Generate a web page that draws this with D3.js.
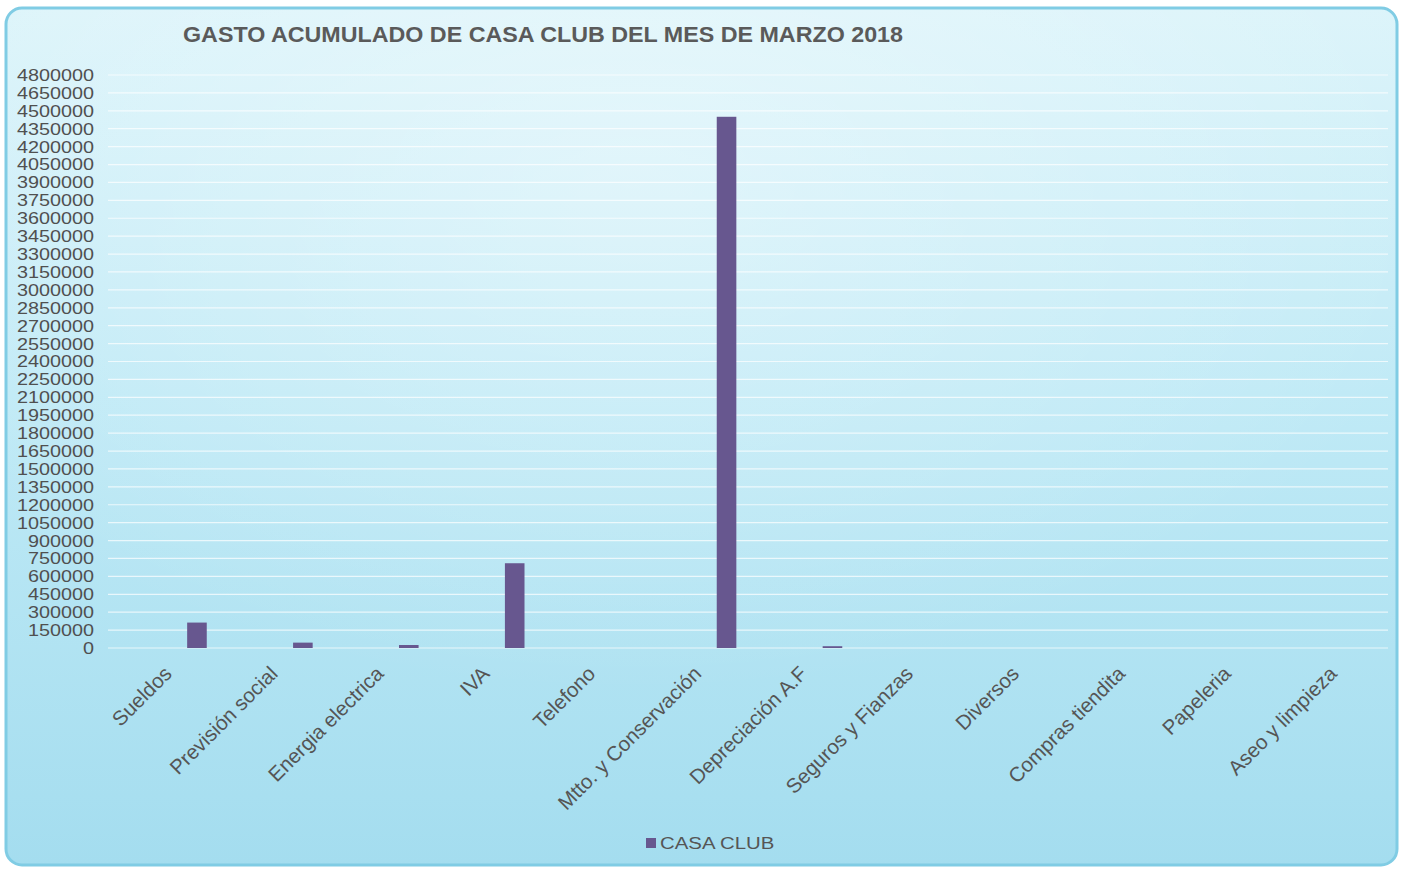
<!DOCTYPE html>
<html>
<head>
<meta charset="utf-8">
<script src="https://cdn.jsdelivr.net/npm/d3@7"></script>
<style>
  html, body { margin: 0; padding: 0; background: #ffffff; }
  svg { display: block; }
  text { font-family: Arial, "Liberation Sans", sans-serif; }
</style>
</head>
<body>
<svg id="chart" width="1403" height="869"></svg>
<script>
const categories = ["Sueldos", "Previsión social", "Energia electrica", "IVA", "Telefono",
  "Mtto. y Conservación", "Depreciación A.F", "Seguros y Fianzas", "Diversos",
  "Compras tiendita", "Papeleria", "Aseo y limpieza"];
const casaClub = [213000, 45000, 25000, 710000, 0, 4450000, 15000, 0, 0, 0, 0, 0];
const yTicks = d3.range(0, 4800001, 150000);
const title = "GASTO ACUMULADO DE CASA CLUB DEL MES DE MARZO 2018";
const seriesName = "CASA CLUB";

const svg = d3.select("#chart");
const defs = svg.append("defs");
const grad = defs.append("linearGradient").attr("id", "bg").attr("x1", 0).attr("y1", 0).attr("x2", 0).attr("y2", 1);
grad.append("stop").attr("offset", "0%").attr("stop-color", "#dcf4fa");
grad.append("stop").attr("offset", "45%").attr("stop-color", "#c0eaf6");
grad.append("stop").attr("offset", "100%").attr("stop-color", "#a4ddef");
const rad = defs.append("radialGradient").attr("id", "glow").attr("cx", 0.45).attr("cy", 0.2).attr("r", 0.6);
rad.append("stop").attr("offset", "0%").attr("stop-color", "#ffffff").attr("stop-opacity", 0.35);
rad.append("stop").attr("offset", "100%").attr("stop-color", "#ffffff").attr("stop-opacity", 0);

// card
svg.append("rect").attr("x", 6).attr("y", 8).attr("width", 1391).attr("height", 857)
  .attr("rx", 16).attr("fill", "url(#bg)");
svg.append("rect").attr("x", 6).attr("y", 8).attr("width", 1391).attr("height", 857)
  .attr("rx", 16).attr("fill", "url(#glow)");
svg.append("rect").attr("x", 6).attr("y", 8).attr("width", 1391).attr("height", 857)
  .attr("rx", 16).attr("fill", "none").attr("stroke", "#80cce4").attr("stroke-width", 3);

const y = d3.scaleLinear().domain([0, 4800000]).range([648, 75]);
const x = d3.scaleBand().domain(categories).range([144, 1415]).paddingInner(0.815).paddingOuter(0.4075);

// gridlines
svg.append("g").selectAll("line").data(yTicks).join("line")
  .attr("x1", 108).attr("x2", 1388)
  .attr("y1", d => y(d)).attr("y2", d => y(d))
  .attr("stroke", "#ffffff").attr("stroke-opacity", 0.7).attr("stroke-width", 1.2);

// y axis labels
svg.append("g").selectAll("text").data(yTicks).join("text")
  .attr("transform", d => `translate(94,${y(d)}) scale(1.2,1)`)
  .attr("text-anchor", "end").attr("dy", "0.36em")
  .attr("font-size", 16.5).attr("fill", "#505050")
  .text(d => d3.format("d")(d));

// bars
svg.append("g").selectAll("rect").data(casaClub).join("rect")
  .attr("x", (d, i) => x(categories[i]))
  .attr("width", x.bandwidth())
  .attr("y", d => y(d))
  .attr("height", d => y(0) - y(d))
  .attr("fill", "#67578f");

// category labels
svg.append("g").selectAll("text").data(categories).join("text")
  .attr("transform", d => `translate(${x(d) + x.bandwidth() / 2 - 24},675) rotate(-45)`)
  .attr("text-anchor", "end")
  .attr("font-size", 20.5).attr("fill", "#555555")
  .text(d => d);

// title
svg.append("text").attr("x", 183).attr("y", 42)
  .attr("font-size", 22).attr("font-weight", "bold").attr("fill", "#5a5a5a")
  .attr("textLength", 720).attr("lengthAdjust", "spacingAndGlyphs")
  .text(title);

// legend
const lg = svg.append("g");
lg.append("rect").attr("x", 646).attr("y", 838).attr("width", 10).attr("height", 10).attr("fill", "#67578f");
lg.append("text").attr("transform", "translate(660,849) scale(1.2,1)")
  .attr("font-size", 17).attr("fill", "#555555").text(seriesName);
</script>
</body>
</html>
